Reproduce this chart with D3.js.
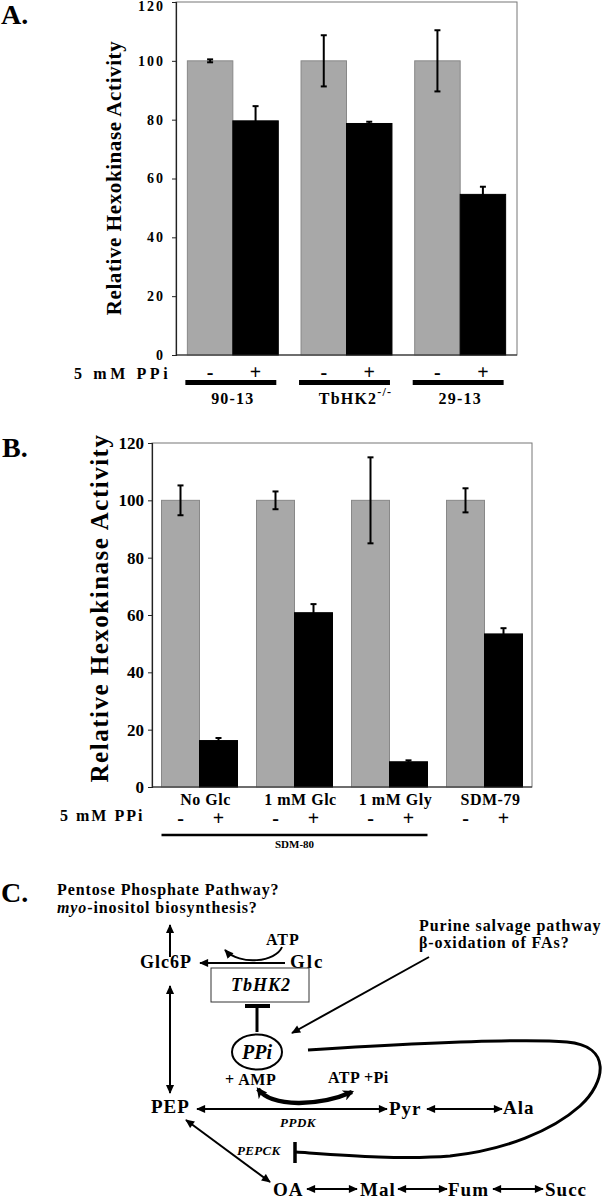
<!DOCTYPE html>
<html><head><meta charset="utf-8">
<script src="https://cdn.jsdelivr.net/npm/d3@7"></script>
<style>
body{margin:0;background:#fff;}
svg{display:block;}
text{font-family:"Liberation Serif","Times New Roman",serif;font-weight:bold;fill:#000;}
</style></head>
<body><svg id="fig" width="607" height="1199"></svg>
<script>
// ---------- DATA ----------
const treatments = ["-", "+"];
const yTicks = [0, 20, 40, 60, 80, 100, 120];

const aGroups = ["90-13", "TbHK2", "29-13"];
const aControl = [100, 100, 100];
const aControlErr = [0.5, 8.7, 10.4];
const aPPi = [79.6, 78.7, 54.6];
const aPPiErr = [5.0, 0.6, 2.6];

const bGroups = ["No Glc", "1 mM Glc", "1 mM Gly", "SDM-79"];
const bControl = [100, 100, 100, 100];
const bControlErr = [5.2, 3.1, 15.0, 4.2];
const bPPi = [16.2, 60.8, 8.8, 53.4];
const bPPiErr = [0.9, 3.0, 0.5, 2.0];

const svg = d3.select("#fig");
const GRAY = "#a8a8a8";

function rows(groups, ctrl, ctrlErr, ppi, ppiErr) {
  const out = [];
  groups.forEach((g, i) => {
    out.push({g, t: "-", v: ctrl[i], e: ctrlErr[i]});
    out.push({g, t: "+", v: ppi[i], e: ppiErr[i]});
  });
  return out;
}

function barPanel(o) {
  const x0 = d3.scaleBand().domain(o.groups).range([o.left, o.right]).paddingInner(0.2).paddingOuter(0.1);
  const x1 = d3.scaleBand().domain(treatments).range([0, x0.bandwidth()]).padding(0);
  const y = d3.scaleLinear().domain([0, 120]).range([o.bottom, o.top]);
  const g = svg.append("g");
  g.append("rect").attr("x", o.left).attr("y", o.top).attr("width", o.right - o.left).attr("height", o.bottom - o.top)
    .attr("fill", "none").attr("stroke", "#777").attr("stroke-width", 1);
  const data = rows(o.groups, o.ctrl, o.ctrlErr, o.ppi, o.ppiErr);
  g.selectAll("rect.bar").data(data).enter().append("rect").attr("class", "bar")
    .attr("x", d => x0(d.g) + x1(d.t)).attr("width", x1.bandwidth())
    .attr("y", d => y(d.v)).attr("height", d => y(0) - y(d.v))
    .attr("fill", d => d.t === "-" ? GRAY : "#000")
    .attr("stroke", d => d.t === "-" ? "#888" : "#000").attr("stroke-width", 1);
  const eb = g.selectAll("g.err").data(data).enter().append("g").attr("class", "err");
  const cx = d => x0(d.g) + x1(d.t) + x1.bandwidth() / 2;
  eb.append("line").attr("x1", cx).attr("x2", cx).attr("y1", d => y(d.v + d.e)).attr("y2", d => y(d.v - d.e))
    .attr("stroke", "#000").attr("stroke-width", 2);
  [1, -1].forEach(s => {
    eb.append("line").attr("x1", d => cx(d) - 3).attr("x2", d => cx(d) + 3)
      .attr("y1", d => y(d.v + s * d.e)).attr("y2", d => y(d.v + s * d.e))
      .attr("stroke", "#000").attr("stroke-width", 2);
  });
  const ax = g.append("g").attr("transform", `translate(${o.left},0)`)
    .call(d3.axisLeft(y).tickValues(yTicks).tickSize(4).tickPadding(o.tickPad).tickFormat(d3.format("d")));
  ax.select(".domain").attr("stroke", "#222").attr("stroke-width", 1.2);
  ax.selectAll(".tick line").attr("stroke", "#222");
  ax.selectAll(".tick text").attr("font-family", '"Liberation Serif","Times New Roman",serif')
    .attr("font-weight", "bold").attr("font-size", o.tickFont).attr("letter-spacing", o.tickLS).attr("fill", "#000")
    .attr("dy", d => d === 120 ? o.topDy : "0.32em");
  g.append("line").attr("x1", o.left).attr("x2", o.right).attr("y1", o.bottom).attr("y2", o.bottom)
    .attr("stroke", "#222").attr("stroke-width", 1.2);
  g.append("text").attr("transform", `translate(${o.titleX},${o.titleY}) rotate(-90)`)
    .attr("text-anchor", "middle").attr("font-size", o.titleFont).attr("letter-spacing", o.titleLS)
    .text("Relative Hexokinase Activity");
  g.append("text").attr("x", o.ppiX).attr("y", o.ppiY).attr("font-size", 16).attr("letter-spacing", o.ppiLS).text("5 mM PPi");
  const tr = [];
  o.groups.forEach(gr => treatments.forEach(t => tr.push({g: gr, t})));
  g.selectAll("text.tr").data(tr).enter().append("text").attr("class", "tr")
    .attr("x", d => x0(d.g) + x1(d.t) + x1.bandwidth() / 2).attr("y", o.signY)
    .attr("text-anchor", "middle").attr("font-size", o.signFont)
    .attr("font-weight", d => d.t === "-" ? "bold" : "normal")
    .text(d => d.t);
  return {x0, x1, y, g};
}

// ---------- PANEL A ----------
svg.append("text").attr("x", 1).attr("y", 24).attr("font-size", 28).text("A.");
const A = barPanel({groups: aGroups, ctrl: aControl, ctrlErr: aControlErr, ppi: aPPi, ppiErr: aPPiErr,
  left: 176, right: 517, top: 2, bottom: 355, tickPad: 7, tickFont: 14, tickLS: 2, topDy: "0.62em",
  titleX: 121, titleY: 178, titleFont: 21, titleLS: 0.6, ppiX: 74, ppiY: 379, ppiLS: 3.6, signY: 379, signFont: 20});
A.g.selectAll("rect.grp").data(aGroups).enter().append("rect").attr("class", "grp")
  .attr("x", d => A.x0(d) - 2).attr("width", A.x0.bandwidth()).attr("y", 380).attr("height", 5).attr("fill", "#000");
A.g.selectAll("text.grp").data(aGroups).enter().append("text").attr("class", "grp")
  .attr("x", (d, i) => A.x0(d) + A.x0.bandwidth() / 2 + (i === 1 ? 9 : 0)).attr("y", 404)
  .attr("text-anchor", "middle").attr("font-size", 16).attr("letter-spacing", 1.2)
  .each(function(d) {
    const t = d3.select(this);
    t.append("tspan").text(d);
    if (d === "TbHK2") t.append("tspan").attr("dy", -8).attr("font-size", 12).text("-/-");
  });

// ---------- PANEL B ----------
svg.append("text").attr("x", 2).attr("y", 457).attr("font-size", 28).text("B.");
const B = barPanel({groups: bGroups, ctrl: bControl, ctrlErr: bControlErr, ppi: bPPi, ppiErr: bPPiErr,
  left: 152, right: 532, top: 443, bottom: 787, tickPad: 4, tickFont: 17, tickLS: 0, topDy: "0.32em",
  titleX: 108, titleY: 608, titleFont: 25, titleLS: 1.5, ppiX: 60, ppiY: 821, ppiLS: 2, signY: 825, signFont: 20});
B.g.selectAll("text.grp").data(bGroups).enter().append("text").attr("class", "grp")
  .attr("x", d => B.x0(d) + B.x0.bandwidth() / 2 + 6).attr("y", 805)
  .attr("text-anchor", "middle").attr("font-size", 16).attr("letter-spacing", 0.5).text(d => d);
B.g.append("line").attr("x1", B.x0(bGroups[0])).attr("x2", B.x0(bGroups[2]) + B.x0.bandwidth())
  .attr("y1", 835).attr("y2", 835).attr("stroke", "#000").attr("stroke-width", 2.5);
B.g.append("text").attr("x", (B.x0(bGroups[0]) + B.x0(bGroups[2]) + B.x0.bandwidth()) / 2).attr("y", 848)
  .attr("text-anchor", "middle").attr("font-size", 11).text("SDM-80");

// ---------- PANEL C (diagram) ----------
const defs = svg.append("defs");
defs.append("marker").attr("id", "ah").attr("viewBox", "0 -5 10 10").attr("refX", 9).attr("refY", 0)
  .attr("markerUnits", "userSpaceOnUse").attr("markerWidth", 10).attr("markerHeight", 9)
  .attr("orient", "auto-start-reverse")
  .append("path").attr("d", "M0,-4.5L10,0L0,4.5Z").attr("fill", "#000");
defs.append("marker").attr("id", "ahBig").attr("viewBox", "0 -5 10 10").attr("refX", 8).attr("refY", 0)
  .attr("markerUnits", "userSpaceOnUse").attr("markerWidth", 13).attr("markerHeight", 11)
  .attr("orient", "auto-start-reverse")
  .append("path").attr("d", "M0,-5L10,0L0,5L3,0Z").attr("fill", "#000");

const C = svg.append("g");
C.append("text").attr("x", 1).attr("y", 902).attr("font-size", 28).text("C.");
const ctext = (x, y, s, size, italic, ls) => C.append("text").attr("x", x).attr("y", y)
  .attr("font-size", size).attr("font-style", italic ? "italic" : "normal")
  .attr("letter-spacing", ls == null ? 0.8 : ls).text(s);

ctext(57, 895, "Pentose Phosphate Pathway?", 16, false, 0.9);
const myo = C.append("text").attr("x", 57).attr("y", 913).attr("font-size", 16).attr("letter-spacing", 0.9);
myo.append("tspan").attr("font-style", "italic").text("myo");
myo.append("tspan").text("-inositol biosynthesis?");
ctext(419, 931, "Purine salvage pathway", 16, false, 0.9);
ctext(419, 948, "β-oxidation of FAs?", 16, false, 0.9);

ctext(140, 968, "Glc6P", 18, false, 1);
ctext(290, 968, "Glc", 19, false, 2);
ctext(266, 945, "ATP", 16, false, 1);
C.append("rect").attr("x", 211).attr("y", 968).attr("width", 98).attr("height", 34)
  .attr("fill", "none").attr("stroke", "#333").attr("stroke-width", 1);
C.append("text").attr("x", 261).attr("y", 991).attr("text-anchor", "middle").attr("font-size", 18)
  .attr("font-style", "italic").attr("letter-spacing", 1).text("TbHK2");
C.append("ellipse").attr("cx", 257).attr("cy", 1052).attr("rx", 25).attr("ry", 17.5)
  .attr("fill", "none").attr("stroke", "#000").attr("stroke-width", 2);
C.append("text").attr("x", 257).attr("y", 1059).attr("text-anchor", "middle").attr("font-size", 20)
  .attr("font-style", "italic").text("PPi");
ctext(225, 1085, "+ AMP", 16, false, 0.5);
ctext(328, 1083, "ATP +Pi", 16, false, 0.5);
ctext(151, 1113, "PEP", 19, false, 1);
ctext(280, 1127, "PPDK", 13, true, 0.5);
ctext(389, 1115, "Pyr", 19, false, 1);
ctext(503, 1114, "Ala", 19, false, 1);
ctext(237, 1155, "PEPCK", 13, true, 0.3);
ctext(273, 1196, "OA", 19, false, 1);
ctext(360, 1196, "Mal", 19, false, 1);
ctext(448, 1196, "Fum", 19, false, 1);
ctext(545, 1196, "Succ", 19, false, 1);

const line = (x1, y1, x2, y2, both, w) => C.append("line").attr("x1", x1).attr("y1", y1).attr("x2", x2).attr("y2", y2)
  .attr("stroke", "#000").attr("stroke-width", w || 2)
  .attr("marker-end", "url(#ah)").attr("marker-start", both ? "url(#ah)" : null);
line(170, 957, 170, 925, false);
line(285, 963, 200, 963, false);
line(170, 986, 170, 1093, true);
line(197, 1109, 387, 1109, true);
line(427, 1109, 502, 1109, true);
line(429, 957, 292, 1033, false);
line(186, 1120, 270, 1182, true);
line(307, 1189, 357, 1189, true);
line(398, 1189, 447, 1189, true);
line(493, 1189, 543, 1189, true);

C.append("path").attr("d", "M282,947 C276,962 240,966 225,950").attr("fill", "none")
  .attr("stroke", "#000").attr("stroke-width", 2).attr("marker-end", "url(#ah)");
C.append("path").attr("d", "M258,1089 C272,1108 320,1106 352,1092").attr("fill", "none")
  .attr("stroke", "#000").attr("stroke-width", 4.5)
  .attr("marker-end", "url(#ahBig)").attr("marker-start", "url(#ahBig)");
C.append("line").attr("x1", 245).attr("x2", 270).attr("y1", 1006).attr("y2", 1006).attr("stroke", "#000").attr("stroke-width", 4);
C.append("line").attr("x1", 257).attr("x2", 257).attr("y1", 1006).attr("y2", 1032).attr("stroke", "#000").attr("stroke-width", 3);
C.append("path").attr("d", "M308,1050 C420,1043 520,1038 567,1042 C612,1046 606,1082 580,1106 C552,1131 505,1150 450,1156 C400,1160 340,1155 296,1152")
  .attr("fill", "none").attr("stroke", "#000").attr("stroke-width", 3);
C.append("line").attr("x1", 295).attr("x2", 295).attr("y1", 1142).attr("y2", 1163).attr("stroke", "#000").attr("stroke-width", 3.5);
</script></body></html>
